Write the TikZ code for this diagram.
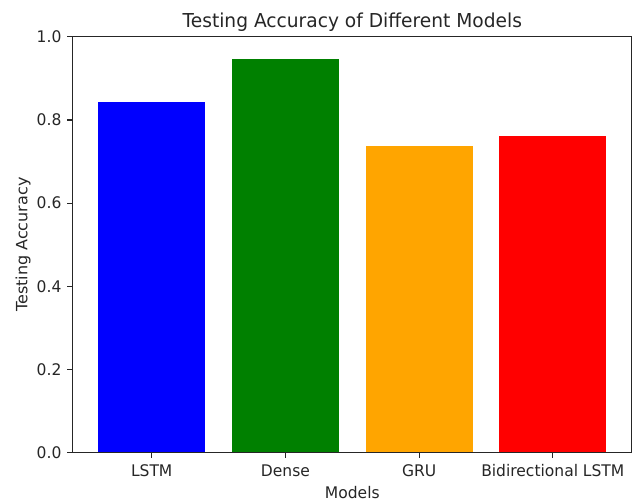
\documentclass[tikz,border=0pt]{standalone}
\usepackage{fontspec}
\setmainfont{DejaVu Sans}
\begin{document}
\begin{tikzpicture}[x=1pt,y=-1pt,
  ink/.style={black!85},
  ticklbl/.style={ink, font=\fontsize{16}{19}\selectfont, inner sep=0pt, xscale=0.97},
  axislbl/.style={ink, font=\fontsize{16}{19}\selectfont, inner sep=0pt, xscale=0.97},
  titlelbl/.style={ink, font=\fontsize{19.2}{23}\selectfont, inner sep=0pt, xscale=0.97},
  spine/.style={ink, line width=1.2pt},
  tickmark/.style={ink, line width=1.2pt}]
\useasboundingbox (0,0) rectangle (635,501);
\definecolor{barblue}{RGB}{0,0,255}
\definecolor{bargreen}{RGB}{0,128,0}
\definecolor{barorange}{RGB}{255,165,0}
\definecolor{barred}{RGB}{255,0,0}

% data coordinates: x = bar index, y = accuracy
\begin{scope}[shift={(151.7,452.7)}, x=133.7pt, y=416pt]
  \fill[barblue]   (-0.4,0) rectangle (0.4,0.844);
  \fill[bargreen]  (0.6,0)  rectangle (1.4,0.946);
  \fill[barorange] (1.6,0)  rectangle (2.4,0.737);
  \fill[barred]    (2.6,0)  rectangle (3.4,0.762);

  % axes frame
  \draw[spine] (-0.59,0) rectangle (3.59,1);

  % y ticks
  \foreach \v/\t [count=\k] in {0/0.0,0.2/0.2,0.4/0.4,0.6/0.6,0.8/0.8,1/1.0} {
    \coordinate (yt\k) at (-0.59,\v);
    \draw[tickmark] (yt\k) -- ++(-5.5pt,0) node[ticklbl, anchor=east, xshift=-5.5pt] (ylab\k) {\t};
  }

  % x ticks
  \foreach \i/\t [count=\k] in {0/LSTM,1/Dense,2/GRU,3/Bidirectional LSTM} {
    \coordinate (xt\k) at (\i,0);
    \draw[tickmark] (xt\k) -- ++(0,-5.5pt);
    \node[ticklbl, anchor=base] (xlab\k) at ([yshift=-24pt]xt\k) {\t};
  }
\end{scope}

% titles
\node[titlelbl, anchor=base] (title) at (352.3,27.3) {Testing Accuracy of Different Models};
\node[axislbl, anchor=base] (xlabel) at (352.3,498.3) {Models};
\node[axislbl, anchor=base, rotate=90] (ylabel) at (27.3,244.7) {Testing Accuracy};
\end{tikzpicture}
\end{document}
